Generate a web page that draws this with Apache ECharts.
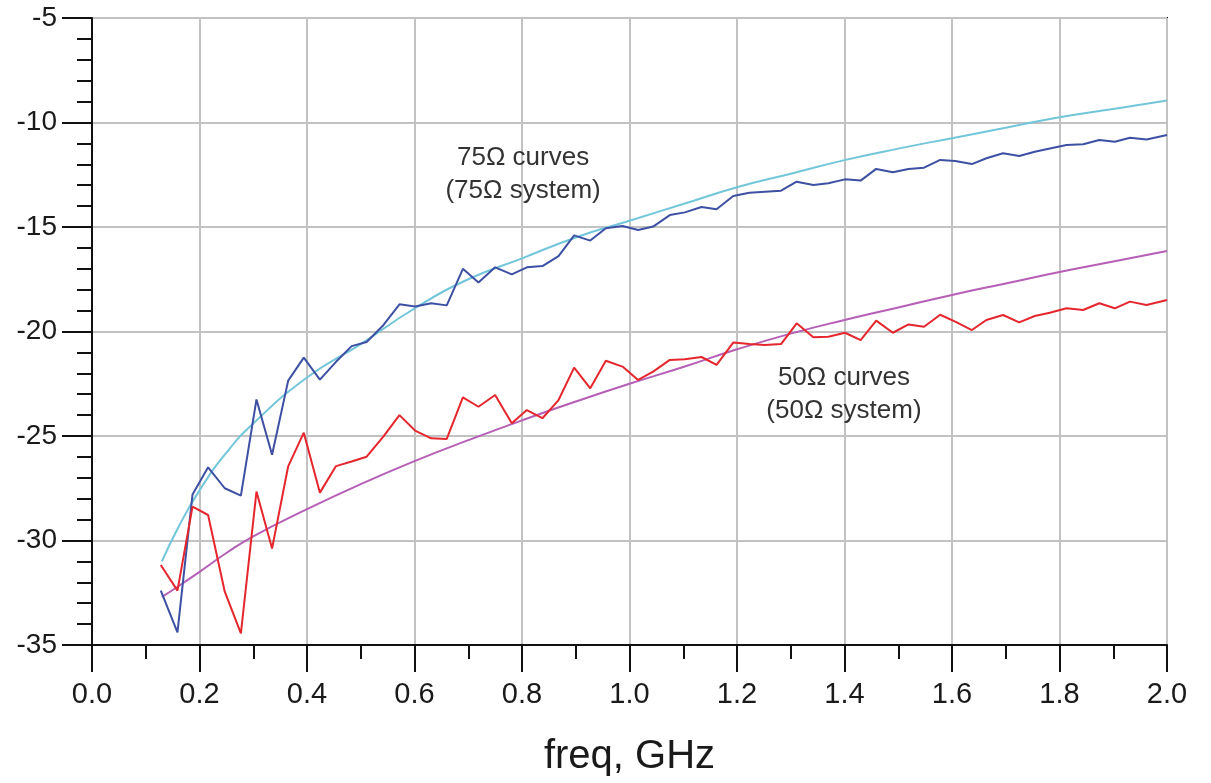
<!DOCTYPE html>
<html>
<head>
<meta charset="utf-8">
<script src="https://cdn.jsdelivr.net/npm/echarts@6/dist/echarts.min.js"></script>
<style>
  html, body { margin: 0; padding: 0; background: #ffffff; }
  #chart { width: 1211px; height: 783px; }
</style>
</head>
<body>
<div id="chart"></div>
<script>
// Sweep frequencies (GHz) of the measured traces
const freqMeas = [
  0.128, 0.159, 0.187, 0.216, 0.247, 0.277, 0.306, 0.335, 0.365, 0.394,
  0.424, 0.454, 0.483, 0.511, 0.542, 0.572, 0.601, 0.631, 0.660, 0.690,
  0.719, 0.750, 0.781, 0.809, 0.838, 0.868, 0.897, 0.927, 0.956, 0.987,
  1.016, 1.044, 1.075, 1.103, 1.134, 1.162, 1.193, 1.223, 1.252, 1.282,
  1.311, 1.342, 1.370, 1.401, 1.430, 1.459, 1.490, 1.519, 1.548, 1.578,
  1.606, 1.637, 1.664, 1.695, 1.725, 1.754, 1.782, 1.813, 1.844, 1.874,
  1.903, 1.931, 1.962, 2.000
];

// Measured response, 75 ohm system (dB)
const meas75 = [
  -32.4, -34.4, -27.8, -26.5, -27.5, -27.85, -23.25, -25.9, -22.35, -21.25,
  -22.3, -21.45, -20.7, -20.5, -19.7, -18.7, -18.8, -18.65, -18.75, -17.0,
  -17.66, -16.93, -17.27, -16.93, -16.87, -16.39, -15.4, -15.65, -15.06, -14.95,
  -15.14, -14.98, -14.43, -14.3, -14.04, -14.15, -13.52, -13.36, -13.31, -13.26,
  -12.83, -12.99, -12.91, -12.72, -12.78, -12.22, -12.38, -12.22, -12.16, -11.79,
  -11.84, -11.99, -11.71, -11.47, -11.6, -11.4, -11.24, -11.08, -11.04, -10.84,
  -10.92, -10.73, -10.81, -10.6
];

// Measured response, 50 ohm system (dB)
const meas50 = [
  -31.17, -32.4, -28.38, -28.78, -32.45, -34.44, -27.66, -30.38, -26.45, -24.84,
  -27.71, -26.44, -26.22, -25.99, -25.03, -24.0, -24.74, -25.11, -25.14, -23.15,
  -23.6, -23.04, -24.39, -23.76, -24.15, -23.28, -21.73, -22.72, -21.4, -21.68,
  -22.32, -21.92, -21.36, -21.33, -21.22, -21.6, -20.53, -20.6, -20.65, -20.6,
  -19.61, -20.28, -20.25, -20.06, -20.41, -19.48, -20.06, -19.66, -19.77, -19.2,
  -19.53, -19.93, -19.45, -19.21, -19.56, -19.26, -19.1, -18.89, -18.97, -18.65,
  -18.89, -18.57, -18.73, -18.49
];

// Frequencies (GHz) of the simulated curves
const freqSim = [
  0.13, 0.16, 0.2, 0.25, 0.3, 0.4, 0.5, 0.6, 0.7, 0.8, 0.9, 1.0,
  1.1, 1.2, 1.3, 1.4, 1.5, 1.6, 1.7, 1.8, 1.9, 2.0
];

// Simulated response, 75 ohm system (dB)
const sim75 = [
  -31.0, -29.4, -27.6, -25.8, -24.4, -22.2, -20.6, -18.9, -17.5, -16.5, -15.5, -14.7,
  -13.9, -13.1, -12.45, -11.8, -11.25, -10.75, -10.25, -9.75, -9.35, -8.95
];

// Simulated response, 50 ohm system (dB)
const sim50 = [
  -32.7, -32.2, -31.5, -30.6, -29.8, -28.5, -27.3, -26.2, -25.2, -24.25, -23.35, -22.5,
  -21.7, -20.85, -20.1, -19.45, -18.85, -18.25, -17.7, -17.15, -16.65, -16.15
];

// X tick range / step (GHz) and Y range / step (dB)
const xTicks = { min: 0, max: 2, step: 0.2 };
const yTicks = { min: -35, max: -5, step: 5 };

// Annotation text blocks and their anchor points (freq, dB)
const notes = [
  { text: '75Ω curves\n(75Ω system)', at: [0.802, -12.5] },
  { text: '50Ω curves\n(50Ω system)', at: [1.399, -23.0] }
];

const pair = (xs, ys) => xs.map((x, i) => [x, ys[i]]);

const FONT = '"Liberation Sans", Arial, sans-serif';
const chart = echarts.init(document.getElementById('chart'), null, { renderer: 'canvas' });

const gridLine = { show: true, lineStyle: { color: '#c2c2c2', width: 2 } };

const option = {
  backgroundColor: '#ffffff',
  animation: false,
  grid: {
    left: 92, right: 44, top: 18, bottom: 138,
    containLabel: false,
    outerBoundsMode: 'none',
    show: true, borderColor: '#111111', borderWidth: 2, backgroundColor: 'transparent'
  },
  xAxis: {
    type: 'value',
    min: xTicks.min, max: xTicks.max, interval: xTicks.step,
    axisLine: { show: true, onZero: false, lineStyle: { color: '#111111', width: 2 } },
    axisTick: { show: true, length: 27, lineStyle: { color: '#111111', width: 2 } },
    minorTick: { show: true, splitNumber: 2, length: 14, lineStyle: { color: '#111111', width: 2 } },
    splitLine: gridLine,
    axisLabel: {
      formatter: v => v.toFixed(1),
      fontFamily: FONT, fontSize: 29, color: '#1a1a1a', margin: 35
    },
    name: 'freq, GHz',
    nameLocation: 'middle',
    nameGap: 92,
    nameTextStyle: { fontFamily: FONT, fontSize: 40, color: '#1a1a1a' }
  },
  yAxis: {
    type: 'value',
    min: yTicks.min, max: yTicks.max, interval: yTicks.step,
    axisLine: { show: true, onZero: false, lineStyle: { color: '#111111', width: 2 } },
    axisTick: { show: true, length: 30, lineStyle: { color: '#111111', width: 2 } },
    minorTick: { show: true, splitNumber: 5, length: 15, lineStyle: { color: '#111111', width: 2 } },
    splitLine: gridLine,
    axisLabel: { fontFamily: FONT, fontSize: 28, color: '#1a1a1a', margin: 35 }
  },
  series: [
    {
      name: 'sim75', type: 'line', data: pair(freqSim, sim75), smooth: true,
      showSymbol: false, lineStyle: { color: '#72c6d9', width: 2 }, z: 3
    },
    {
      name: 'sim50', type: 'line', data: pair(freqSim, sim50), smooth: true,
      showSymbol: false, lineStyle: { color: '#b55fb6', width: 2 }, z: 3
    },
    {
      name: 'meas75', type: 'line', data: pair(freqMeas, meas75),
      showSymbol: false, lineStyle: { color: '#3d50a3', width: 2 }, z: 4
    },
    {
      name: 'meas50', type: 'line', data: pair(freqMeas, meas50),
      showSymbol: false, lineStyle: { color: '#e5262d', width: 2 }, z: 4
    }
  ]
};

chart.setOption(option);

// Place the annotation blocks at their data-space anchors
chart.setOption({
  graphic: notes.map(n => {
    const p = chart.convertToPixel({ gridIndex: 0 }, n.at);
    return {
      type: 'text',
      x: p[0], y: p[1],
      z: 10,
      style: {
        text: n.text,
        fontFamily: FONT, fontSize: 26, fill: '#333333',
        align: 'center', verticalAlign: 'middle', lineHeight: 33
      }
    };
  })
});
</script>
</body>
</html>
